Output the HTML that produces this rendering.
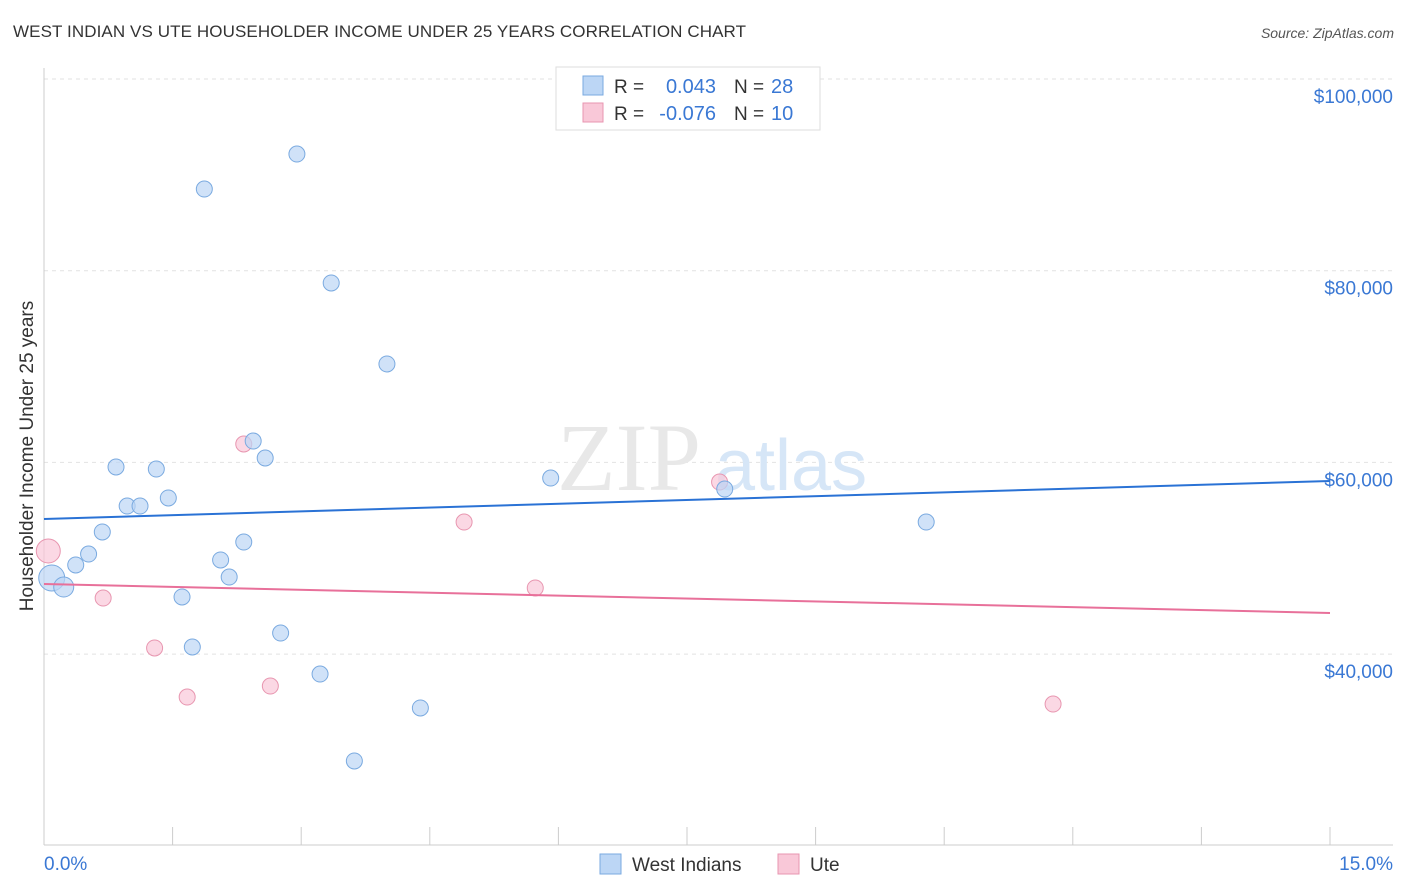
<!DOCTYPE html>
<html><head><meta charset="utf-8">
<style>
body{margin:0;background:#fff;font-family:"Liberation Sans",sans-serif;}
#wrap{position:relative;width:1406px;height:892px;overflow:hidden;}
.title{position:absolute;left:13px;top:22px;font-size:17px;color:#333;letter-spacing:0.1px}
.source{position:absolute;right:12px;top:25px;font-size:14px;color:#555;font-style:italic}
</style></head>
<body>
<div id="wrap">
<div class="title">WEST INDIAN VS UTE HOUSEHOLDER INCOME UNDER 25 YEARS CORRELATION CHART</div>
<div class="source">Source: ZipAtlas.com</div>
<svg id="svg" width="1406" height="892" style="position:absolute;left:0;top:0"></svg>
</div>
<script>
const blueX=[0.09,0.23,0.37,0.52,0.68,0.84,0.97,1.12,1.31,1.45,1.61,1.73,1.87,2.06,2.16,2.33,2.44,2.58,2.76,2.95,3.22,3.35,3.62,4.00,4.39,5.91,7.94,10.29];
const blueY=[47940,47000,49300,50440,52740,59520,55450,55450,59310,56290,45960,40740,88520,49820,48040,51690,62230,60460,42200,92170,37920,78720,28850,70270,34380,58370,57220,53780];
const pinkX=[0.05,0.69,1.29,1.67,2.33,2.64,4.90,5.73,7.88,11.77];
const pinkY=[50760,45850,40640,35520,61920,36670,53780,46900,57950,34790];
const blueTrend=[54100,58060];
const pinkTrend=[47310,44290];
const yTicks=[40000,60000,80000,100000];
const yTickLabels=["$40,000","$60,000","$80,000","$100,000"];
const xTicks=[0,1.5,3,4.5,6,7.5,9,10.5,12,13.5,15];
const legendR=["0.043","-0.076"];
const legendN=["28","10"];

const svg=document.getElementById('svg');
const NS='http://www.w3.org/2000/svg';
const X0=44,X1=1330,XMAX=15;
const Y100=79,PX_PER_20K=191.7;
function sx(v){return X0+(v/XMAX)*(X1-X0);}
function sy(v){return Y100+(100000-v)/20000*PX_PER_20K;}
function mk(tag,attrs,name,txt){const e=document.createElementNS(NS,tag);for(const k in attrs)e.setAttribute(k,attrs[k]);


if(txt!==undefined)e.textContent=txt;svg.appendChild(e);return e;}

yTicks.forEach((t,i)=>{mk('line',{x1:X0,x2:1393,y1:sy(t),y2:sy(t),stroke:'#e2e2e2','stroke-dasharray':'4,4'},'y-gridline');
mk('text',{x:1393,y:sy(t)+24,'text-anchor':'end','font-size':19,fill:'#3a78d4'},'y-tick-label',yTickLabels[i]);});
mk('line',{x1:X0,x2:X0,y1:68,y2:845,stroke:'#ccc'},'y-axis');
mk('line',{x1:X0,x2:1393,y1:845,y2:845,stroke:'#ccc'},'x-axis');
xTicks.forEach(t=>{if(t>0)mk('line',{x1:sx(t),x2:sx(t),y1:827,y2:845,stroke:'#ccc'},'x-tick');});
mk('text',{x:44,y:870,'font-size':19,fill:'#3a78d4'},'x-min-label','0.0%');
mk('text',{x:1393,y:870,'text-anchor':'end','font-size':19,fill:'#3a78d4'},'x-max-label','15.0%');
mk('text',{x:33,y:456,'text-anchor':'middle','font-size':19,fill:'#333',transform:'rotate(-90 33 456)'},'y-axis-title','Householder Income Under 25 years');
mk('text',{x:557,y:490,'font-size':96,fill:'#e8e8e8','font-family':'Liberation Serif,serif'},'watermark-zip','ZIP');
mk('text',{x:715,y:490,'font-size':72,fill:'#d6e6f7'},'watermark-atlas','atlas');
pinkX.forEach((x,i)=>{const r=i===0?12:8;mk('circle',{cx:sx(x),cy:sy(pinkY[i]),r:r,fill:'#f9c8d8','fill-opacity':0.7,stroke:'#e896b0','stroke-width':1},'ute-point');});
blueX.forEach((x,i)=>{const r=i===0?13:(i===1?10:8);mk('circle',{cx:sx(x),cy:sy(blueY[i]),r:r,fill:'#bcd6f5','fill-opacity':0.7,stroke:'#7aaae0','stroke-width':1},'west-indian-point');});
mk('line',{x1:sx(0),x2:sx(15),y1:sy(blueTrend[0]),y2:sy(blueTrend[1]),stroke:'#2a72d5','stroke-width':2},'west-indian-trendline');
mk('line',{x1:sx(0),x2:sx(15),y1:sy(pinkTrend[0]),y2:sy(pinkTrend[1]),stroke:'#e8709a','stroke-width':2},'ute-trendline');
mk('rect',{x:556,y:67,width:264,height:63,fill:'#fff',stroke:'#ddd'},'legend-box');
const cols=[['#bcd6f5','#7aaae0'],['#f9c8d8','#e896b0']];
[0,1].forEach(i=>{const y=76+i*27;
mk('rect',{x:583,y:y,width:20,height:19,fill:cols[i][0],stroke:cols[i][1]},'legend-swatch');
mk('text',{x:614,y:y+17,'font-size':19,fill:'#333'},'legend-r-label','R =');
mk('text',{x:716,y:y+17,'font-size':20,fill:'#3a78d4','text-anchor':'end'},'legend-r-value',legendR[i]);
mk('text',{x:734,y:y+17,'font-size':19,fill:'#333'},'legend-n-label','N =');
mk('text',{x:771,y:y+17,'font-size':20,fill:'#3a78d4'},'legend-n-value',legendN[i]);});
mk('rect',{x:600,y:854,width:21,height:20,fill:'#bcd6f5',stroke:'#7aaae0'},'bottom-legend-swatch-west-indians');
mk('text',{x:632,y:871,'font-size':19,fill:'#333'},'bottom-legend-west-indians','West Indians');
mk('rect',{x:778,y:854,width:21,height:20,fill:'#f9c8d8',stroke:'#e896b0'},'bottom-legend-swatch-ute');
mk('text',{x:810,y:871,'font-size':19,fill:'#333'},'bottom-legend-ute','Ute');
</script>
</body></html>
